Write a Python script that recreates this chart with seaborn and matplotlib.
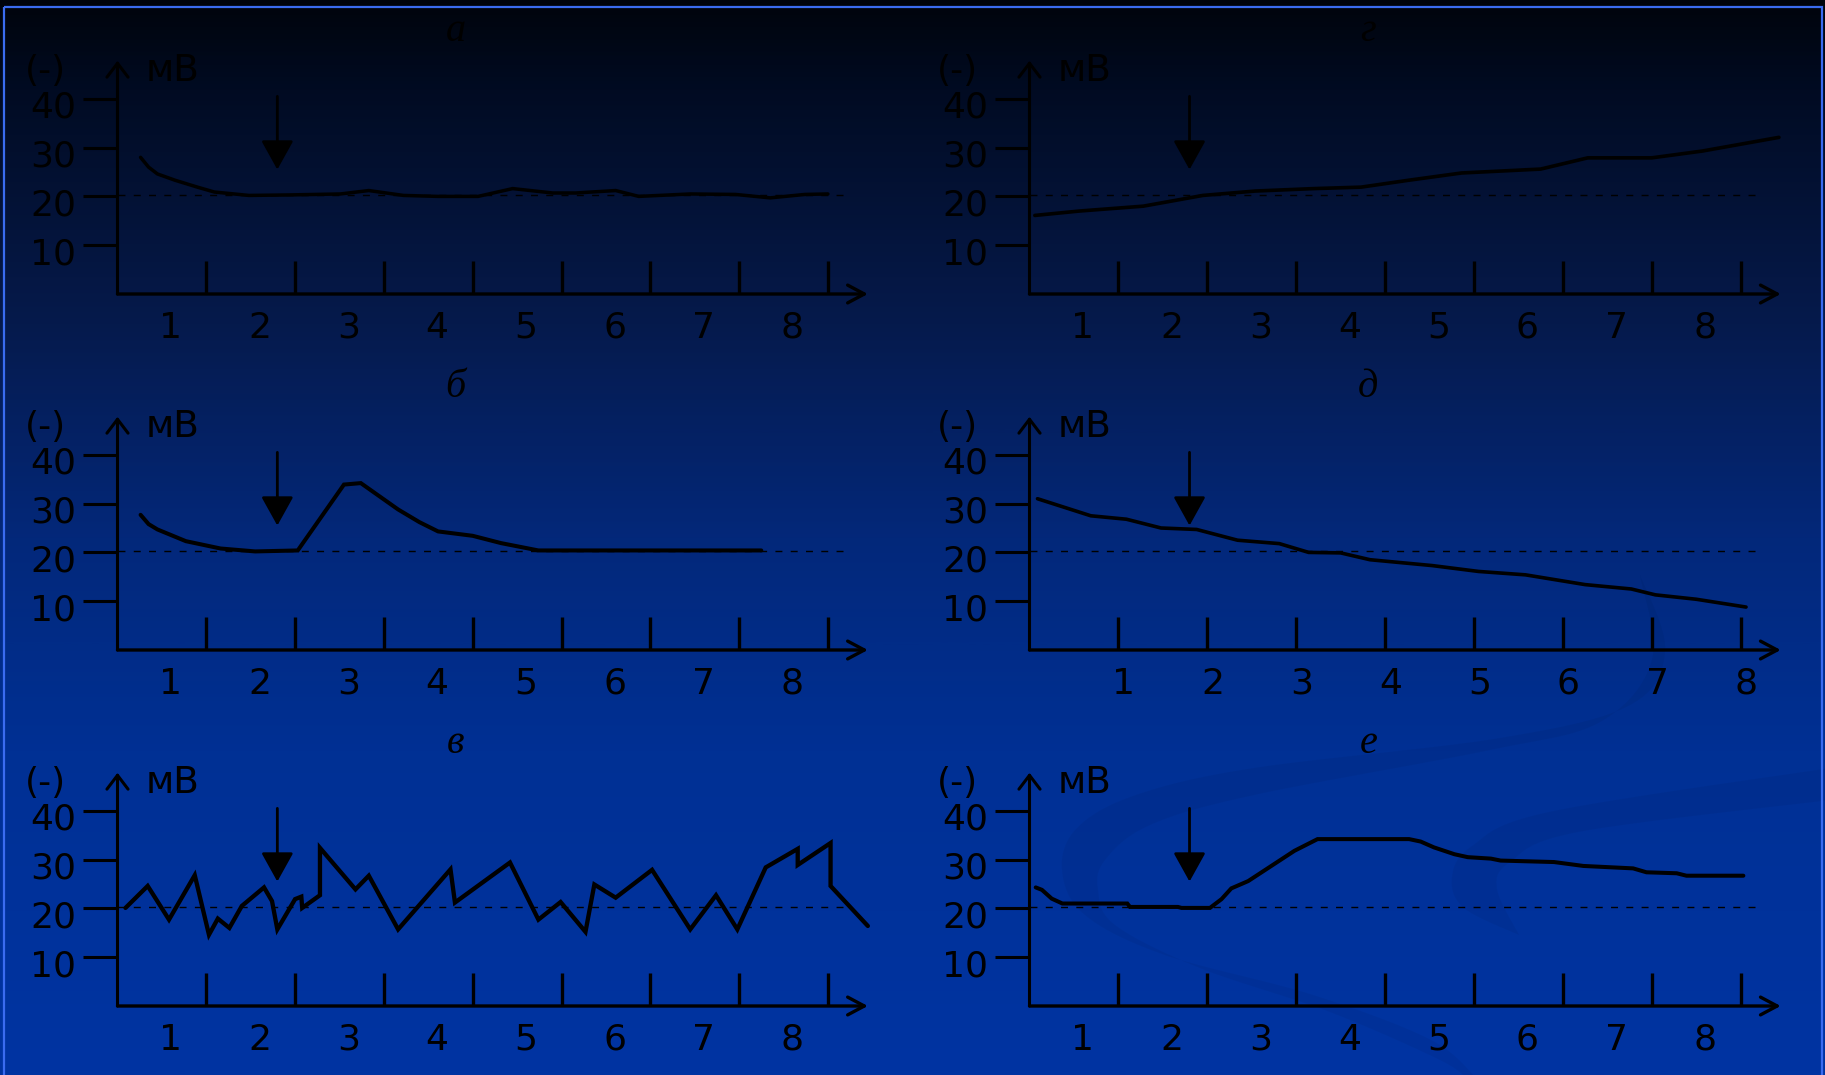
import numpy as np
import pandas as pd
import matplotlib
matplotlib.use("Agg")
import matplotlib.pyplot as plt
import seaborn as sns
from matplotlib.patches import Rectangle
from matplotlib.colors import LinearSegmentedColormap

# ---------------- data ----------------
a_x = [0.26, 0.35, 0.45, 0.65, 0.90, 1.09, 1.48, 1.93, 2.51, 2.83, 3.22, 3.61, 4.06, 4.45, 4.90, 5.16, 5.61, 5.87, 6.45, 6.96, 7.35, 7.74, 8.00]
a_y = [28.0, 26.0, 24.6, 23.3, 21.9, 20.9, 20.2, 20.3, 20.5, 21.2, 20.2, 20.0, 20.0, 21.6, 20.7, 20.7, 21.2, 20.0, 20.5, 20.4, 19.7, 20.4, 20.5]

b_x = [0.26, 0.35, 0.45, 0.77, 1.16, 1.55, 2.03, 2.55, 2.74, 2.95, 3.16, 3.40, 3.61, 4.00, 4.32, 4.74, 7.25]
b_y = [27.7, 25.8, 24.7, 22.3, 20.8, 20.2, 20.4, 33.9, 34.2, 31.5, 28.8, 26.2, 24.3, 23.4, 21.9, 20.4, 20.4]

v_x = [0.09, 0.34, 0.58, 0.87, 1.03, 1.13, 1.26, 1.40, 1.65, 1.74, 1.80, 2.00, 2.07, 2.08, 2.28, 2.28, 2.68, 2.83, 3.16, 3.75, 3.80,
       4.42, 4.74, 4.99, 5.27, 5.37, 5.61, 6.02, 6.45, 6.74, 6.98, 7.30, 7.66, 7.66, 8.03, 8.03, 8.45]
v_y = [20.1, 24.6, 17.7, 26.8, 14.6, 17.9, 16.0, 20.5, 24.3, 21.5, 15.7, 21.9, 22.4, 20.1, 22.7, 32.4, 23.9, 26.7, 15.7, 28.0, 21.2,
       29.4, 17.7, 21.3, 15.2, 24.9, 22.2, 27.9, 15.7, 22.7, 15.7, 28.4, 32.2, 28.9, 33.4, 24.6, 16.4]

g_x = [0.06, 0.56, 1.28, 1.95, 2.54, 3.20, 3.73, 4.26, 4.86, 5.75, 6.28, 7.00, 7.57, 7.97, 8.43]
g_y = [16.1, 17.0, 18.0, 20.2, 21.1, 21.6, 21.9, 23.3, 24.8, 25.6, 27.9, 27.9, 29.3, 30.6, 32.1]

d_x = [0.09, 0.69, 1.09, 1.48, 1.88, 2.34, 2.81, 3.14, 3.50, 3.83, 4.53, 5.05, 5.58, 6.25, 6.77, 7.04, 7.50, 8.06]
d_y = [31.0, 27.5, 26.8, 25.0, 24.7, 22.5, 21.8, 20.0, 19.9, 18.5, 17.3, 16.1, 15.4, 13.4, 12.5, 11.3, 10.4, 8.8]

e_x = [0.07, 0.14, 0.25, 0.37, 1.10, 1.13, 1.67, 1.71, 2.03, 2.16, 2.27, 2.46, 2.72, 2.98, 3.24, 4.27, 4.40, 4.55, 4.78,
       4.93, 5.19, 5.30, 5.90, 6.23, 6.79, 6.94, 7.28, 7.39, 8.03]
e_y = [24.3, 23.8, 22.0, 21.0, 21.0, 20.3, 20.3, 20.1, 20.1, 21.9, 24.1, 25.6, 28.7, 31.8, 34.2, 34.2, 33.7, 32.5, 31.1,
       30.5, 30.2, 29.8, 29.5, 28.7, 28.2, 27.4, 27.2, 26.7, 26.7]

titles = ["а", "б", "в", "г", "д", "е"]
y_ticks = [10, 20, 30, 40]
x_ticks = [1, 2, 3, 4, 5, 6, 7, 8]
x_tick_labels = ["1", "2", "3", "4", "5", "6", "7", "8"]
baseline_level = 20.3
stimulus_x = 1.8
stimulus_y = (40.5, 25.5)
y_label_left = "(-)"
y_label_unit = "мВ"

# ---------------- figure ----------------
sns.set_theme(style="white")
plt.rcParams['font.family'] = ['DejaVu Sans']

W, H = 1825, 1075
fig = plt.figure(figsize=(W / 100, H / 100), dpi=100)

# background gradient
bg = fig.add_axes([0, 0, 1, 1], zorder=-10)
grad = np.linspace(0, 1, 600).reshape(-1, 1)
cmap = LinearSegmentedColormap.from_list(
    'bg', [(0.0, '#00040c'), (0.08, '#010b22'), (0.3, '#061a4c'), (0.5, '#03287a'),
           (0.7, '#003094'), (1.0, '#0034a2')])
bg.imshow(grad, aspect='auto', cmap=cmap, extent=[0, W, H, 0], interpolation='bilinear')
bg.set_xlim(0, W)
bg.set_ylim(H, 0)
bg.axis('off')


def smooth(pts, n=20):
    pts = np.asarray(pts, float)
    p = np.vstack([pts[0], pts, pts[-1]])
    out = []
    for i in range(1, len(p) - 2):
        p0, p1, p2, p3 = p[i - 1], p[i], p[i + 1], p[i + 2]
        for t in np.linspace(0, 1, n, endpoint=False):
            t2, t3 = t * t, t * t * t
            out.append(0.5 * ((2 * p1) + (-p0 + p2) * t + (2 * p0 - 5 * p1 + 4 * p2 - p3) * t2
                              + (-p0 + 3 * p1 - 3 * p2 + p3) * t3))
    out.append(pts[-1])
    return np.array(out)


outer1 = [(1640, 575), (1665, 650), (1630, 705), (1500, 738), (1254, 768), (1136, 795), (1077, 828),
          (1062, 870), (1085, 915), (1165, 955), (1313, 995), (1431, 1040), (1478, 1080)]
inner1 = [(1640, 575), (1652, 660), (1600, 722), (1490, 750), (1254, 795), (1150, 825), (1105, 860),
          (1098, 890), (1115, 925), (1200, 968), (1330, 1012), (1440, 1060), (1468, 1080)]
outer2 = [(1830, 768), (1549, 812), (1472, 846), (1452, 877), (1464, 908), (1519, 935)]
inner2 = [(1830, 800), (1578, 832), (1510, 862), (1497, 889), (1519, 935)]
for o, i in [(outer1, inner1), (outer2, inner2)]:
    poly = np.vstack([smooth(o), smooth(i)[::-1]])
    bg.add_patch(plt.Polygon(poly, closed=True, facecolor='black', alpha=0.045, edgecolor='none'))

bg.add_patch(Rectangle((4.5, 6.5), 1818, 1100, fill=False, edgecolor='#3a6cf0', linewidth=1.6))

# ---------------- panels ----------------
panels = [
    dict(title=titles[0], x=a_x, y=a_y, col=0, row=0, lw=2.5, lab_shift=-0.40),
    dict(title=titles[1], x=b_x, y=b_y, col=0, row=1, lw=2.9, lab_shift=-0.40),
    dict(title=titles[2], x=v_x, y=v_y, col=0, row=2, lw=3.1, lab_shift=-0.40),
    dict(title=titles[3], x=g_x, y=g_y, col=1, row=0, lw=2.6, lab_shift=-0.40),
    dict(title=titles[4], x=d_x, y=d_y, col=1, row=1, lw=2.6, lab_shift=0.06),
    dict(title=titles[5], x=e_x, y=e_y, col=1, row=2, lw=2.9, lab_shift=-0.40),
]

col_ox = [117.5, 1029.5]
col_sx = [88.8, 88.9]
row_oy = [294, 650, 1006]
sy = 4.88
XMAX, YMAX = 8.6, 50.0
PT = 0.72  # points per pixel at dpi 100
FS = 26

for p in panels:
    ox, sx, oy = col_ox[p['col']], col_sx[p['col']], row_oy[p['row']]
    ax = fig.add_axes([ox / W, (H - oy) / H, XMAX * sx / W, YMAX * sy / H])
    ax.set_xlim(0, XMAX)
    ax.set_ylim(0, YMAX)
    ax.patch.set_alpha(0)
    for s in ax.spines.values():
        s.set_visible(False)

    df = pd.DataFrame({'t': p['x'], 'v': p['y']})
    sns.lineplot(data=df, x='t', y='v', ax=ax, color='black', linewidth=p['lw'],
                 sort=False, estimator=None, solid_joinstyle='miter')
    ax.set_xlabel('')
    ax.set_ylabel('')

    # reference level
    ax.plot([0, 8.2], [baseline_level, baseline_level], color='black', lw=1.0, ls=(0, (5, 6)))

    # axes with arrowheads
    ax.annotate('', xy=(0, 47.8), xytext=(0, 0), annotation_clip=False,
                arrowprops=dict(arrowstyle='->,head_length=0.5,head_width=0.38', lw=2.2, color='black',
                                shrinkA=0, shrinkB=0, mutation_scale=20))
    ax.annotate('', xy=(8.45, 0), xytext=(0, 0), annotation_clip=False,
                arrowprops=dict(arrowstyle='->,head_length=0.6,head_width=0.32', lw=2.4, color='black',
                                shrinkA=0, shrinkB=0, mutation_scale=20))

    # ticks
    ax.set_xticks(x_ticks)
    ax.set_xticklabels([])
    ax.set_yticks(y_ticks)
    ax.set_yticklabels([])
    ax.tick_params(axis='x', direction='in', length=24, width=2.4, color='black', bottom=True)
    ax.tick_params(axis='y', direction='out', length=25, width=2.2, color='black', left=True)

    # tick labels
    for v in y_ticks:
        ax.annotate(str(v), xy=(0, v), xytext=(-41 * PT, -19 * PT), textcoords='offset points',
                    ha='right', va='baseline', fontsize=FS, color='black', annotation_clip=False)
    for t, lab in zip(x_ticks, x_tick_labels):
        ax.annotate(lab, xy=(t + p['lab_shift'], 0), xytext=(0, -44 * PT), textcoords='offset points',
                    ha='center', va='baseline', fontsize=FS, color='black', annotation_clip=False)

    # axis labels
    ax.annotate(y_label_left, xy=(0, 43.6), xytext=(-72 * PT, 0), textcoords='offset points',
                ha='center', va='baseline', fontsize=FS, color='black', annotation_clip=False)
    ax.annotate(y_label_unit, xy=(0, 43.6), xytext=(28 * PT, 0), textcoords='offset points',
                ha='left', va='baseline', fontsize=FS + 1, color='black', annotation_clip=False)

    # title
    ax.text(3.81, 51.8, p['title'], ha='center', va='baseline', fontsize=29, color='black',
            family=['Liberation Serif', 'DejaVu Serif'], style='italic', clip_on=False)

    # stimulus arrow
    ax.annotate('', xy=(stimulus_x, stimulus_y[1]), xytext=(stimulus_x, stimulus_y[0]),
                annotation_clip=False,
                arrowprops=dict(arrowstyle='-|>,head_length=0.9,head_width=0.5', lw=2.0, color='black',
                                shrinkA=0, shrinkB=0, mutation_scale=20))

fig.savefig('out.png', dpi=100, facecolor='black')
